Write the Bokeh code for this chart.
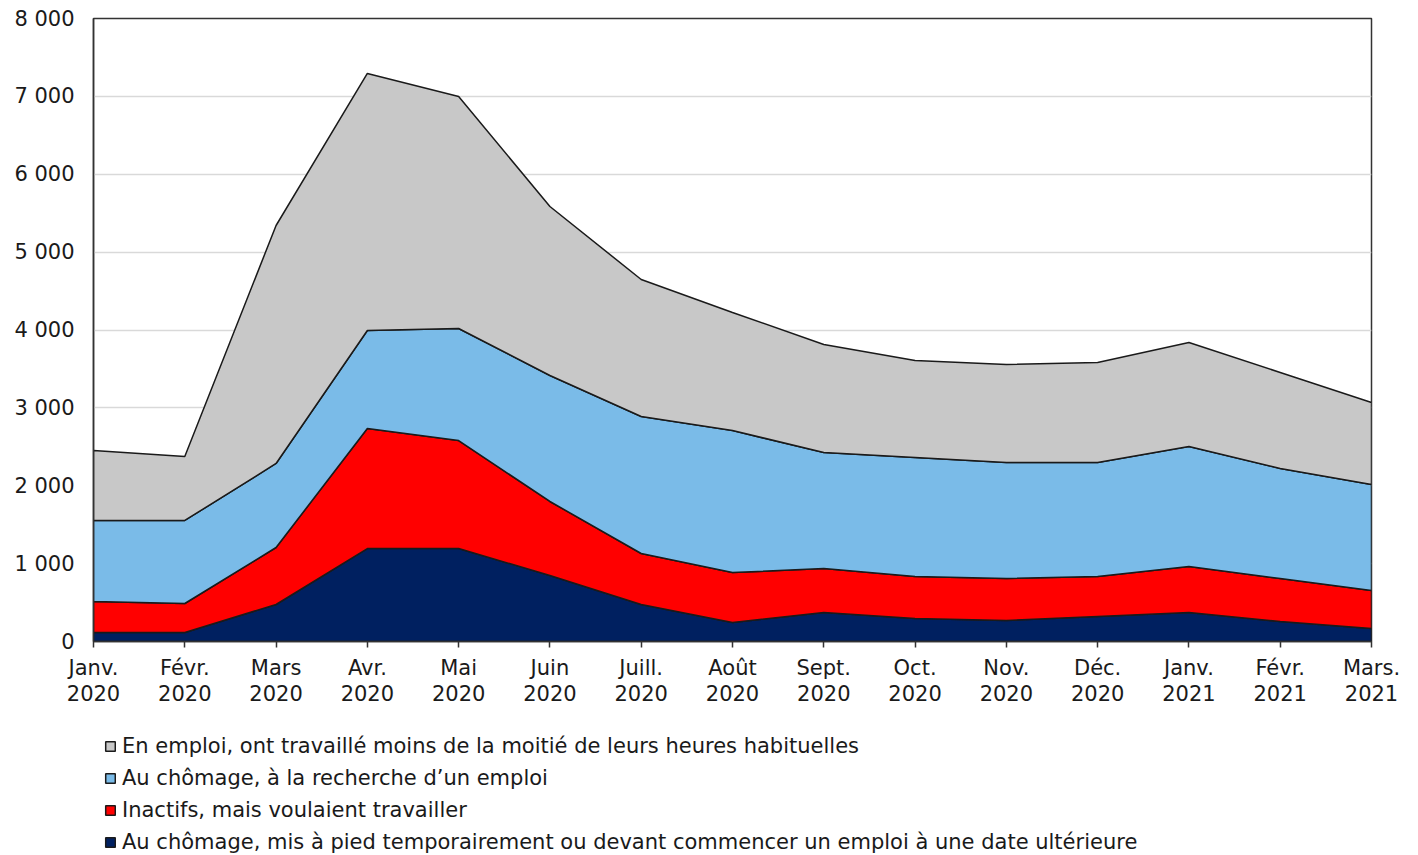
import numpy as np
from bokeh.plotting import figure
from bokeh.layouts import column
from bokeh.models import Range1d, FixedTicker, Legend, LegendItem
from bokeh.embed import file_html
from bokeh.resources import INLINE

months = ["Janv.\n2020", "Févr.\n2020", "Mars\n2020", "Avr.\n2020", "Mai\n2020", "Juin\n2020",
          "Juill.\n2020", "Août\n2020", "Sept.\n2020", "Oct.\n2020", "Nov.\n2020", "Déc.\n2020",
          "Janv.\n2021", "Févr.\n2021", "Mars.\n2021"]

temp_layoff = [116, 116, 475, 1194, 1194, 848, 475, 244, 372, 295, 270, 321, 372, 257, 167]
inactive_want = [398, 372, 732, 1541, 1387, 950, 655, 642, 565, 540, 539, 514, 591, 552, 488]
unemployed_search = [1040, 1066, 1079, 1259, 1438, 1618, 1759, 1823, 1490, 1528, 1490, 1464, 1541, 1413, 1361]
employed_less_half = [899, 822, 3056, 3300, 2979, 2170, 1759, 1516, 1387, 1245, 1258, 1284, 1336, 1232, 1053]

labels = [
    "Au chômage, mis à pied temporairement ou devant commencer un emploi à une date ultérieure",
    "Inactifs, mais voulaient travailler",
    "Au chômage, à la recherche d\u2019un emploi",
    "En emploi, ont travaillé moins de la moitié de leurs heures habituelles",
]
colors = ["#002060", "#FF0000", "#7ABBE8", "#C8C8C8"]
series = [temp_layoff, inactive_want, unemployed_search, employed_less_half]

yticks = [0, 1000, 2000, 3000, 4000, 5000, 6000, 7000, 8000]

FONT = "DejaVu Sans"
FS = "21px"
EDGE = "#1a1a1a"

x = np.arange(len(months), dtype=float)

p = figure(width=1403, height=721, output_backend="svg", toolbar_location=None,
           x_range=Range1d(0, len(months) - 1), y_range=Range1d(0, 8000),
           min_border_left=93, min_border_right=32, min_border_top=18, min_border_bottom=80)

bottom = np.zeros(len(months))
for vals, col in zip(series, colors):
    top = bottom + np.array(vals, dtype=float)
    xs = np.concatenate([x, x[::-1]])
    ys = np.concatenate([top, bottom[::-1]])
    p.patch(xs, ys, fill_color=col, line_color=EDGE, line_width=1.5)
    bottom = top

# grid
p.xgrid.visible = False
p.ygrid.ticker = FixedTicker(ticks=yticks)
p.ygrid.grid_line_color = "#d9d9d9"
p.ygrid.grid_line_width = 1.5
p.ygrid.level = "underlay"

p.outline_line_color = "#333333"
p.outline_line_width = 1.5
p.background_fill_color = "white"
p.border_fill_color = "white"

# y axis
p.yaxis.ticker = FixedTicker(ticks=yticks)
p.yaxis.major_label_overrides = {t: (f"{t:,}".replace(",", " ")) for t in yticks}
p.yaxis.major_tick_out = 0
p.yaxis.major_tick_in = 0
p.yaxis.minor_tick_line_color = None
p.yaxis.axis_line_color = "#333333"
p.yaxis.axis_line_width = 1.5
p.yaxis.major_label_standoff = 19
p.yaxis.major_label_text_font = FONT
p.yaxis.major_label_text_font_size = FS
p.yaxis.major_label_text_color = EDGE

# x axis
p.xaxis.ticker = FixedTicker(ticks=list(range(len(months))))
p.xaxis.major_label_overrides = {i: m for i, m in enumerate(months)}
p.xaxis.major_tick_out = 6
p.xaxis.major_tick_in = 0
p.xaxis.minor_tick_line_color = None
p.xaxis.axis_line_color = "#333333"
p.xaxis.axis_line_width = 1.5
p.xaxis.major_tick_line_color = "#333333"
p.xaxis.major_tick_line_width = 1.5
p.xaxis.major_label_standoff = 8
p.xaxis.major_label_text_font = FONT
p.xaxis.major_label_text_font_size = FS
p.xaxis.major_label_text_color = EDGE
p.xaxis.major_label_text_line_height = 1.1

# legend panel below the chart
lf = figure(width=1403, height=134, output_backend="svg", toolbar_location=None,
            x_range=Range1d(0, 1), y_range=Range1d(0, 1),
            x_axis_type=None, y_axis_type=None,
            min_border_left=0, min_border_right=0, min_border_top=0, min_border_bottom=0)
lf.outline_line_color = None
lf.xgrid.visible = False
lf.ygrid.visible = False
lf.background_fill_color = "white"
lf.border_fill_color = "white"

# legend proxies (out of view)
leg_renderers = []
for col in colors:
    r = lf.patch([-5, -5, -5], [-5, -5, -5], fill_color=col, line_color=EDGE, line_width=1.5)
    leg_renderers.append(r)

items = [LegendItem(label=labels[i], renderers=[leg_renderers[i]]) for i in [3, 2, 1, 0]]
legend = Legend(items=items, location=(11, 1), orientation="vertical")
legend.label_text_font = FONT
legend.label_text_font_size = FS
legend.label_text_color = EDGE
legend.glyph_width = 12
legend.glyph_height = 12
legend.label_standoff = 6
legend.spacing = 8
legend.padding = 0
legend.margin = 0
legend.border_line_color = None
legend.background_fill_alpha = 0
legend.label_height = 22
legend.label_text_baseline = "middle"
lf.add_layout(legend, "center")

layout = column(p, lf, spacing=0)
open("out.html", "w").write(file_html(layout, INLINE))
